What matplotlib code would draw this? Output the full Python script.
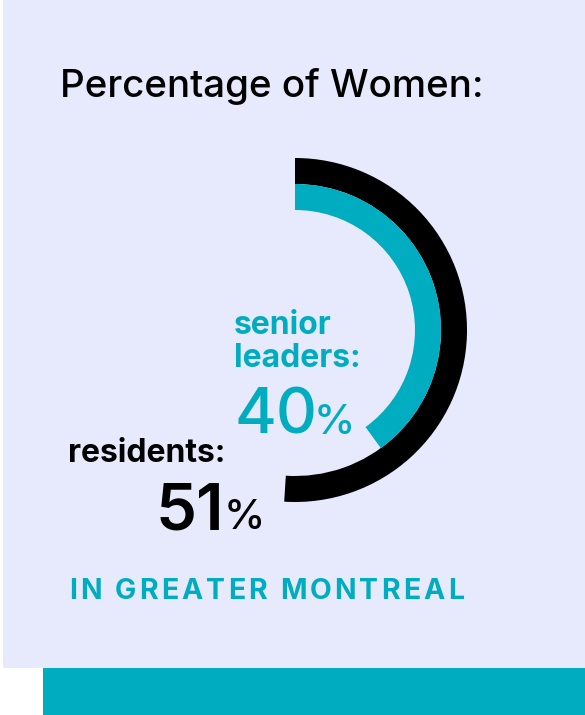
import matplotlib
matplotlib.use("Agg")
import matplotlib.pyplot as plt
from matplotlib.patches import Wedge, Rectangle
from matplotlib.font_manager import FontProperties

# ---- data ----
categories = ["residents", "senior leaders"]
values = [51, 40]          # percentage of women
title = "Percentage of Women:"
subtitle = "IN GREATER MONTREAL"

# ---- style ----
BG = "#e7e9fc"
TEAL = "#00acbf"
BLACK = "#000000"
FONT = "Inter"

W, H = 585, 715
fig = plt.figure(figsize=(W / 100, H / 100), dpi=100)
ax = fig.add_axes([0, 0, 1, 1])
ax.set_xlim(0, W)
ax.set_ylim(H, 0)
ax.axis("off")
fig.patch.set_facecolor("white")

# panels
ax.add_patch(Rectangle((3, 0), W - 3, 668, color=BG, lw=0))
ax.add_patch(Rectangle((43, 668), W - 43, H - 668, color=TEAL, lw=0))

# arcs (clockwise from top; y axis inverted)
cx, cy = 295, 330
arc_specs = [(172, BLACK, values[0]), (146, TEAL, values[1])]
for r, col, v in arc_specs:
    ax.add_patch(Wedge((cx, cy), r, -90, -90 + 360 * v / 100, width=26,
                       color=col, lw=0))

fig.canvas.draw()
renderer = fig.canvas.get_renderer()


def tw(s, prop):
    w, h, d = renderer.get_text_width_height_descent(s, prop, ismath=False)
    return w


def fp(weight, size):
    return FontProperties(family=FONT, weight=weight, size=size)


def fitted(s, weight, target_w):
    size = 20 * target_w / tw(s, fp(weight, 20))
    return fp(weight, size)


def put(x, y, s, prop, color):
    ax.text(x, y, s, fontproperties=prop, color=color, va="baseline")


# title
put(60, 97, title, fitted(title, 500, 424), BLACK)

# senior leaders
p_lab = fp(700, 23)
put(234, 334, "senior", p_lab, TEAL)
put(234, 367, "leaders:", p_lab, TEAL)
p40 = fp(500, 46)
s40 = f"{values[1]}"
put(234, 434, s40, p40, TEAL)
put(234 + tw(s40, p40) - 3, 434, "%", fp(500, 30), TEAL)

# residents
put(68, 462, "residents:", p_lab, BLACK)
p51 = fp(600, 47)
s51 = f"{values[0]}"
put(156, 529, s51, p51, BLACK)
put(156 + tw(s51, p51) - 1, 529, "%", fp(500, 30), BLACK)

# letter-spaced subtitle
prop = fp(700, 20.5)
x0, x1 = 69, 464
natural = tw(subtitle, prop)
track = (x1 - x0 - natural) / (len(subtitle) - 1)
for i, ch in enumerate(subtitle):
    if ch == " ":
        continue
    xi = x0 + tw(subtitle[:i + 1], prop) - tw(ch, prop) + i * track
    put(xi, 599, ch, prop, TEAL)

fig.savefig("out.png", dpi=100, facecolor="white")
